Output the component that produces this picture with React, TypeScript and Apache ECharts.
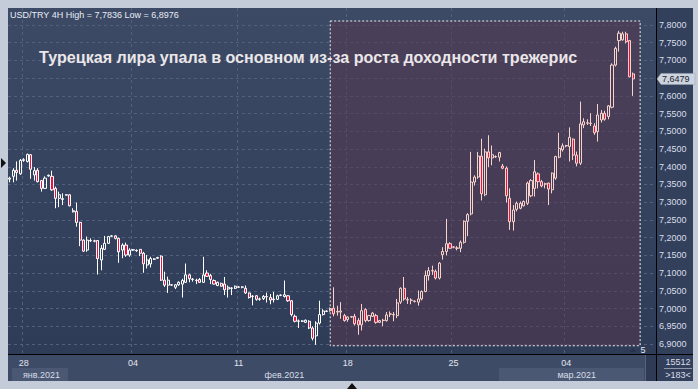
import React, { useEffect, useRef } from 'react';
import * as echarts from 'echarts';

// OHLC per 4H bar: [open, close, low, high]
const ohlc: number[][] = [
  [7.365, 7.368, 7.356, 7.372], [7.373, 7.390, 7.356, 7.396], [7.390, 7.384, 7.361, 7.415], [7.380, 7.418, 7.377, 7.422],
  [7.418, 7.420, 7.414, 7.424], [7.415, 7.435, 7.412, 7.437], [7.434, 7.393, 7.366, 7.436], [7.377, 7.389, 7.361, 7.399],
  [7.390, 7.358, 7.356, 7.396], [7.361, 7.339, 7.330, 7.363], [7.339, 7.368, 7.337, 7.373], [7.374, 7.376, 7.372, 7.378],
  [7.373, 7.335, 7.332, 7.389], [7.339, 7.311, 7.283, 7.344], [7.311, 7.321, 7.286, 7.330], [7.310, 7.308, 7.292, 7.325],
  [7.320, 7.321, 7.319, 7.322], [7.321, 7.290, 7.288, 7.322], [7.276, 7.273, 7.271, 7.283], [7.274, 7.243, 7.231, 7.299],
  [7.243, 7.193, 7.176, 7.245], [7.193, 7.162, 7.160, 7.195], [7.165, 7.193, 7.160, 7.203], [7.191, 7.192, 7.188, 7.198],
  [7.191, 7.190, 7.187, 7.194], [7.192, 7.141, 7.096, 7.193], [7.137, 7.170, 7.108, 7.179], [7.167, 7.184, 7.165, 7.205],
  [7.184, 7.203, 7.182, 7.205], [7.204, 7.205, 7.203, 7.207], [7.205, 7.198, 7.195, 7.207], [7.198, 7.160, 7.129, 7.200],
  [7.165, 7.179, 7.142, 7.184], [7.179, 7.151, 7.146, 7.186], [7.151, 7.165, 7.146, 7.170], [7.165, 7.166, 7.163, 7.168],
  [7.164, 7.163, 7.160, 7.167], [7.167, 7.156, 7.148, 7.167], [7.156, 7.126, 7.101, 7.160], [7.123, 7.137, 7.113, 7.151],
  [7.126, 7.141, 7.116, 7.146], [7.139, 7.140, 7.137, 7.142], [7.142, 7.144, 7.140, 7.146], [7.148, 7.080, 7.078, 7.150],
  [7.080, 7.066, 7.061, 7.104], [7.066, 7.080, 7.044, 7.090], [7.067, 7.066, 7.064, 7.069],
  [7.060, 7.067, 7.055, 7.069], [7.067, 7.074, 7.064, 7.077], [7.069, 7.079, 7.031, 7.084], [7.074, 7.095, 7.072, 7.127],
  [7.095, 7.084, 7.074, 7.098], [7.083, 7.082, 7.076, 7.086], [7.080, 7.079, 7.069, 7.084], [7.082, 7.074, 7.072, 7.086],
  [7.074, 7.095, 7.072, 7.146], [7.100, 7.091, 7.089, 7.108], [7.093, 7.082, 7.069, 7.098], [7.079, 7.069, 7.068, 7.082],
  [7.065, 7.074, 7.063, 7.076], [7.071, 7.063, 7.062, 7.073], [7.069, 7.053, 7.038, 7.089], [7.055, 7.060, 7.031, 7.065],
  [7.057, 7.058, 7.038, 7.060], [7.057, 7.063, 7.055, 7.065], [7.060, 7.061, 7.058, 7.063], [7.060, 7.061, 7.057, 7.063],
  [7.057, 7.044, 7.041, 7.065], [7.044, 7.031, 7.028, 7.045], [7.034, 7.035, 7.009, 7.038], [7.036, 7.026, 7.022, 7.038],
  [7.026, 7.027, 7.022, 7.031], [7.028, 7.034, 7.024, 7.038], [7.033, 7.034, 7.017, 7.045], [7.031, 7.024, 7.012, 7.041],
  [7.025, 7.027, 7.017, 7.047], [7.026, 7.036, 7.024, 7.039], [7.037, 7.038, 7.035, 7.040], [7.034, 7.039, 7.031, 7.079],
  [7.036, 7.022, 7.019, 7.038], [7.022, 6.983, 6.978, 7.024], [6.978, 6.964, 6.961, 6.983], [6.964, 6.965, 6.945, 6.969],
  [6.965, 6.964, 6.962, 6.967], [6.961, 6.967, 6.959, 6.969], [6.964, 6.945, 6.942, 6.967], [6.945, 6.916, 6.910, 6.950],
  [6.923, 6.959, 6.8976, 6.964], [6.959, 6.983, 6.955, 7.022], [6.983, 6.993, 6.980, 6.998], [6.992, 6.993, 6.990, 6.995],
  [6.994, 7.000, 6.991, 7.003], [7.001, 6.985, 6.978, 7.060], [6.990, 6.992, 6.980, 7.008], [6.990, 6.993, 6.971, 7.018],
  [6.980, 6.966, 6.963, 6.985], [6.969, 6.976, 6.963, 6.978], [6.976, 6.977, 6.974, 6.979], [6.978, 6.957, 6.952, 6.985],
  [6.966, 6.954, 6.926, 6.973], [6.954, 6.994, 6.938, 7.013], [6.997, 6.966, 6.961, 7.001], [6.966, 6.980, 6.963, 6.982],
  [6.978, 6.987, 6.976, 6.990], [6.980, 6.961, 6.957, 6.985], [6.961, 6.966, 6.959, 6.968], [6.966, 6.967, 6.950, 6.971],
  [6.966, 6.982, 6.963, 6.990], [6.984, 6.985, 6.976, 6.992], [6.983, 6.982, 6.964, 6.990], [6.980, 7.016, 6.973, 7.027],
  [7.018, 7.057, 7.013, 7.060], [7.057, 7.027, 7.022, 7.089], [7.024, 7.025, 7.013, 7.032], [7.024, 7.023, 7.012, 7.029],
  [7.021, 7.020, 7.017, 7.023], [7.018, 7.027, 7.008, 7.051], [7.027, 7.048, 7.023, 7.051], [7.048, 7.093, 7.046, 7.107],
  [7.093, 7.107, 7.079, 7.117], [7.106, 7.107, 7.095, 7.121], [7.105, 7.086, 7.082, 7.110], [7.086, 7.128, 7.082, 7.131],
  [7.152, 7.161, 7.138, 7.173], [7.161, 7.183, 7.150, 7.253], [7.183, 7.170, 7.169, 7.187], [7.173, 7.174, 7.170, 7.176],
  [7.171, 7.170, 7.164, 7.176], [7.170, 7.187, 7.159, 7.192], [7.187, 7.246, 7.183, 7.249], [7.246, 7.265, 7.204, 7.269],
  [7.267, 7.357, 7.263, 7.442], [7.357, 7.371, 7.347, 7.376], [7.371, 7.430, 7.366, 7.442], [7.430, 7.324, 7.305, 7.479],
  [7.321, 7.442, 7.317, 7.451], [7.442, 7.425, 7.399, 7.489], [7.425, 7.434, 7.404, 7.460],
  [7.428, 7.429, 7.425, 7.432], [7.427, 7.440, 7.415, 7.442], [7.402, 7.396, 7.393, 7.408], [7.396, 7.318, 7.299, 7.401],
  [7.311, 7.245, 7.222, 7.339], [7.245, 7.278, 7.220, 7.292], [7.280, 7.297, 7.274, 7.302], [7.283, 7.297, 7.280, 7.302],
  [7.290, 7.302, 7.288, 7.305], [7.297, 7.354, 7.292, 7.358], [7.318, 7.361, 7.314, 7.365], [7.339, 7.386, 7.316, 7.419],
  [7.380, 7.358, 7.339, 7.384], [7.358, 7.346, 7.342, 7.363], [7.352, 7.351, 7.339, 7.355], [7.354, 7.337, 7.292, 7.355],
  [7.335, 7.382, 7.325, 7.384], [7.368, 7.429, 7.363, 7.431], [7.427, 7.452, 7.424, 7.496], [7.448, 7.459, 7.443, 7.466],
  [7.459, 7.460, 7.455, 7.462], [7.457, 7.483, 7.415, 7.511], [7.478, 7.433, 7.419, 7.480], [7.433, 7.410, 7.401, 7.443],
  [7.410, 7.521, 7.405, 7.584], [7.518, 7.527, 7.509, 7.537], [7.523, 7.524, 7.518, 7.534], [7.523, 7.522, 7.515, 7.551],
  [7.515, 7.496, 7.490, 7.523], [7.499, 7.546, 7.471, 7.577], [7.532, 7.551, 7.525, 7.560], [7.551, 7.534, 7.530, 7.558],
  [7.542, 7.572, 7.534, 7.574], [7.568, 7.687, 7.565, 7.692], [7.687, 7.734, 7.683, 7.739], [7.756, 7.777, 7.725, 7.7836],
  [7.758, 7.775, 7.756, 7.781], [7.775, 7.753, 7.748, 7.781], [7.756, 7.654, 7.652, 7.758], [7.662, 7.6479, 7.600, 7.666],
];

const totalSlots = 184; // bars that fit on screen, incl. chart shift
const categories = Array.from({ length: totalSlots }, (_, i) => String(i));
const dayTickIndex = [4, 35, 65, 96, 126, 158];
const dayTickLabels = ['28', '04', '11', '18', '25', '04'];
const monthIndex = [9, 78, 161];
const monthLabels = ['янв.2021', 'фев.2021', 'мар.2021'];
const yTicks = [6.9, 6.95, 7.0, 7.05, 7.1, 7.15, 7.2, 7.25, 7.3, 7.35, 7.4, 7.45, 7.5, 7.55, 7.6, 7.65, 7.7, 7.75, 7.8];
const highlightStart = 91;
const highlightEnd = 179;
const highlightTop = 7.8113;
const highlightBottom = 6.895;
const lastPrice = ohlc[ohlc.length - 1][1];
const TITLE = 'Турецкая лира упала в основном из-за роста доходности трежерис';
const SYMBOL = 'USD/TRY 4H';
const BARS_TOTAL = '15512';
const BARS_SHOWN = '>183<';

const FONT = '"Liberation Sans", Arial, sans-serif';
const fmt = (v: number) => v.toFixed(4).replace('.', ',');

export default function App() {
  const ref = useRef<HTMLDivElement>(null);
  useEffect(() => {
    if (!ref.current) return;
    const chart = echarts.init(ref.current, undefined, { renderer: 'svg', width: 698, height: 389 });
    const hi = Math.max(...ohlc.map((d) => d[3]));
    const lo = Math.min(...ohlc.map((d) => d[2]));
    const pink = '#f7d3cb';
    const data = ohlc.map((d, i) =>
      i >= highlightStart
        ? { value: d, itemStyle: { borderColor: pink, borderColor0: pink, borderColorDoji: pink } }
        : d
    );
    // the last-price box covers the tick label it sits on
    const yLabelValues = yTicks.filter((v) => Math.abs(v - lastPrice) > 0.01);
    const frame = '#c3ccd8';
    const bgRect = (x: number, y: number, w: number, h: number, fill: string) => ({
      type: 'rect', silent: true, z: -1, shape: { x, y, width: w, height: h }, style: { fill },
    });
    const graphicBase: any[] = [
      bgRect(0, 0, 698, 8, frame),
      bgRect(0, 0, 8, 389, frame),
      bgRect(693, 0, 5, 389, frame),
      bgRect(0, 381, 698, 8, frame),
      bgRect(8, 355, 637, 26, '#3e4b66'),
      bgRect(12, 368, 56, 13, '#4a5874'),
      bgRect(499, 368, 145, 13, '#4a5874'),
      bgRect(645, 355, 11, 26, '#2f3b55'),
      { type: 'line', silent: true, z: 6, shape: { x1: 645.5, y1: 355, x2: 645.5, y2: 381 }, style: { stroke: '#56637d', lineWidth: 1 } },
      { type: 'line', silent: true, z: 6, shape: { x1: 656.5, y1: 8, x2: 656.5, y2: 381 }, style: { stroke: '#000000', lineWidth: 1 } },
      { type: 'line', silent: true, z: 6, shape: { x1: 8, y1: 354.5, x2: 693, y2: 354.5 }, style: { stroke: '#000000', lineWidth: 1 } },
      {
        type: 'text', silent: true, z: 10, x: 10, y: 10,
        style: { text: `${SYMBOL} High = ${fmt(hi)} Low = ${fmt(lo)}`, fill: '#e8ecf3', fontSize: 9, fontFamily: FONT, textVerticalAlign: 'top' },
      },
      {
        type: 'text', silent: true, z: 10, x: 39, y: 57,
        style: { text: TITLE, fill: '#ebe6e8', fontSize: 16.1, fontWeight: 'bold', fontFamily: FONT, textVerticalAlign: 'middle' },
      },
      {
        type: 'text', silent: true, z: 10, x: 678, y: 362,
        style: { text: BARS_TOTAL, fill: '#d8dee8', fontSize: 9, fontFamily: FONT, textAlign: 'center', textVerticalAlign: 'middle' },
      },
      { type: 'line', silent: true, z: 10, shape: { x1: 664, y1: 368.5, x2: 692, y2: 368.5 }, style: { stroke: '#8d97a8', lineWidth: 1 } },
      {
        type: 'text', silent: true, z: 10, x: 678, y: 375,
        style: { text: BARS_SHOWN, fill: '#d8dee8', fontSize: 9, fontFamily: FONT, textAlign: 'center', textVerticalAlign: 'middle' },
      },
      {
        type: 'text', silent: true, z: 10, x: 643, y: 350,
        style: { text: '5', fill: '#e6e9ef', fontSize: 9, fontFamily: FONT, textAlign: 'center', textVerticalAlign: 'middle' },
      },
      { type: 'polygon', silent: true, z: 10, shape: { points: [[630, 352], [633, 348], [636, 352]] }, style: { fill: '#26314a' } },
      { type: 'polygon', silent: true, z: 10, shape: { points: [[1, 158], [6, 163], [1, 168]] }, style: { fill: '#111111' } },
      { type: 'polygon', silent: true, z: 10, shape: { points: [[347, 389], [352, 383], [357, 389]] }, style: { fill: '#111111' } },
    ];
    const option: any = {
      animation: false,
      backgroundColor: '#33405c',
      textStyle: { fontFamily: FONT },
      grid: {
        left: 8, right: 42, top: 8, bottom: 35, show: true, borderWidth: 0,
        backgroundColor: new echarts.graphic.LinearGradient(0, 0, 0, 1, [
          { offset: 0, color: '#3c4a66' },
          { offset: 1, color: '#2f3c58' },
        ]),
      },
      xAxis: [
        {
          type: 'category', data: categories, boundaryGap: true,
          axisLine: { show: false }, axisTick: { show: false },
          axisLabel: {
            interval: (i: number) => dayTickIndex.includes(i),
            formatter: (_v: string, i: number) => dayTickLabels[dayTickIndex.indexOf(i)] ?? '',
            color: '#e0e5ee', fontSize: 9, margin: 4, fontFamily: FONT,
          },
          splitLine: {
            show: true, interval: (i: number) => dayTickIndex.includes(i),
            lineStyle: { color: '#52607c', width: 1, type: [3, 3] },
          },
        },
        {
          type: 'category', data: categories, boundaryGap: true, position: 'bottom', offset: 12,
          axisLine: { show: false }, axisTick: { show: false }, splitLine: { show: false },
          axisLabel: {
            interval: (i: number) => monthIndex.includes(i),
            formatter: (_v: string, i: number) => monthLabels[monthIndex.indexOf(i)] ?? '',
            color: '#d8dee8', fontSize: 9, margin: 4, fontFamily: FONT,
          },
        },
      ],
      yAxis: {
        type: 'value', position: 'right', min: 6.8717, max: 7.848,
        axisLine: { show: false },
        axisTick: { show: false, customValues: yTicks },
        axisLabel: { customValues: yLabelValues, formatter: (v: number) => fmt(v), color: '#d8dee8', fontSize: 9, margin: 3, fontFamily: FONT },
        splitLine: { show: true, lineStyle: { color: '#52607c', width: 1, type: [3, 3] } },
      },
      series: [
        {
          type: 'line', data: [], z: 3, silent: true,
          markArea: {
            silent: true,
            itemStyle: { color: 'rgba(88,54,78,0.5)', borderColor: '#eeeeee', borderWidth: 1, borderType: [2, 2] },
            data: [[{ xAxis: highlightStart, yAxis: highlightTop }, { xAxis: highlightEnd, yAxis: highlightBottom }]],
          },
        },
        {
          type: 'candlestick', data, z: 5, barWidth: 2.6, silent: true,
          itemStyle: {
            color: 'rgba(0,0,0,0)', color0: '#ee1040',
            borderColor: '#ffffff', borderColor0: '#ffffff', borderColorDoji: '#ffffff', borderWidth: 1,
          },
        },
      ],
      graphic: graphicBase,
    };
    chart.setOption(option);

    // last-price tag on the price scale, placed through the y axis
    const py = chart.convertToPixel({ yAxisIndex: 0 }, lastPrice) as number;
    chart.setOption({
      graphic: [
        ...graphicBase,
        {
          type: 'polygon', silent: true, z: 20,
          shape: { points: [[657, py], [661, py - 5.5], [695, py - 5.5], [695, py + 5.5], [661, py + 5.5]] },
          style: { fill: '#cdd4df', stroke: '#9aa4b4', lineWidth: 0.5 },
        },
        {
          type: 'text', silent: true, z: 21, x: 662, y: py,
          style: { text: fmt(lastPrice), fill: '#1a2030', fontSize: 9, fontFamily: FONT, textVerticalAlign: 'middle' },
        },
      ],
    });
    return () => chart.dispose();
  }, []);
  return <div ref={ref} style={{ position: 'fixed', left: 0, top: 0, width: 698, height: 389 }} />;
}
